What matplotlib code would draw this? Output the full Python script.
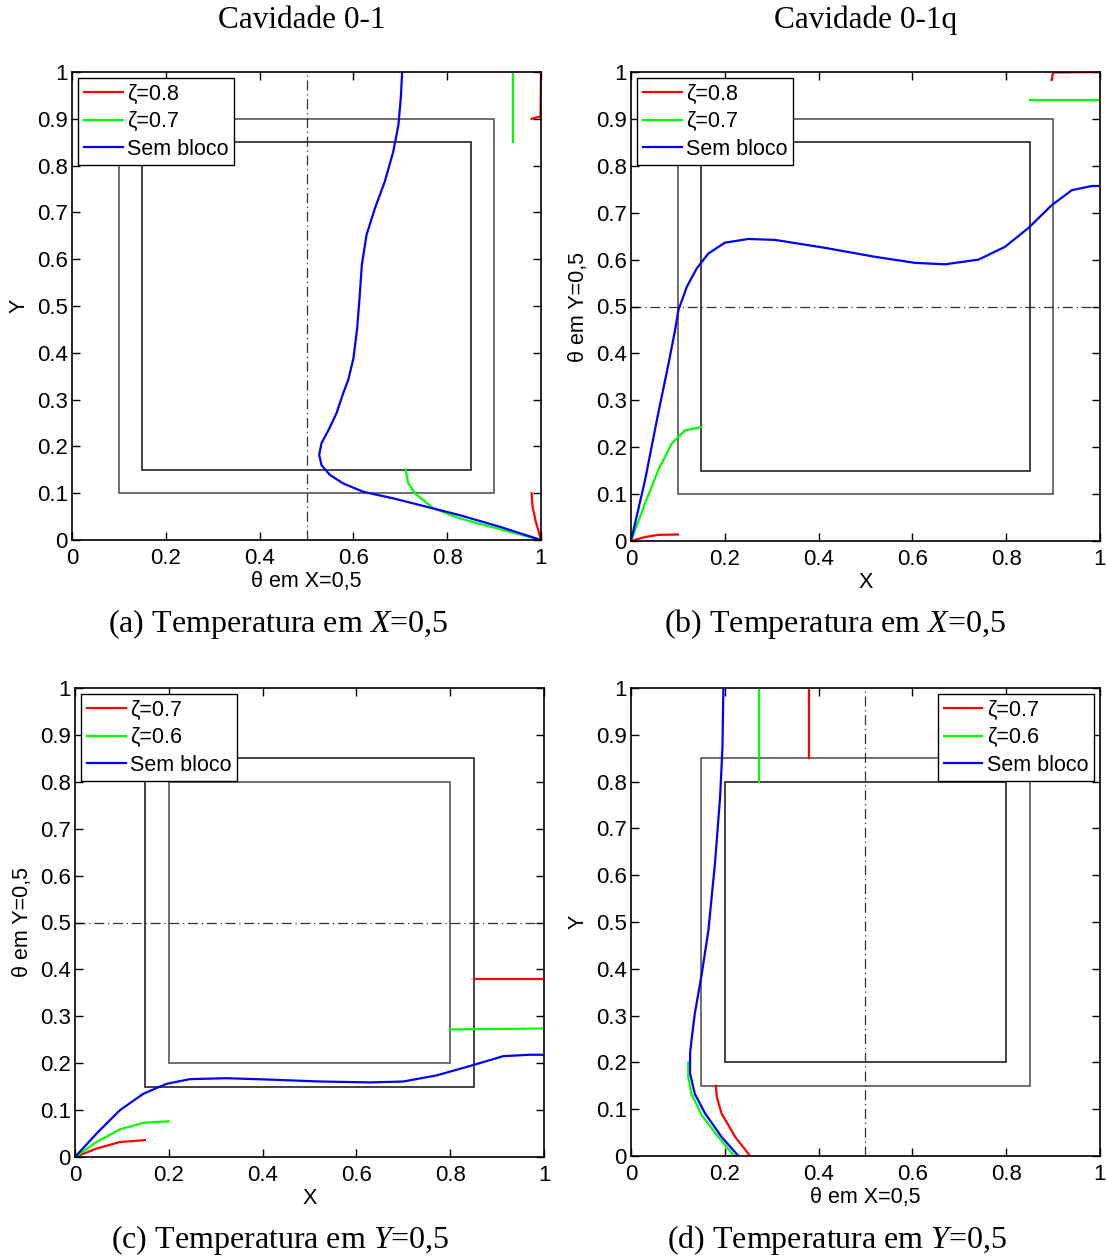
import matplotlib
matplotlib.use("Agg")
import matplotlib.pyplot as plt
from matplotlib.patches import Rectangle
from matplotlib.lines import Line2D

plt.rcParams['font.family'] = ['Liberation Sans', 'DejaVu Sans']
plt.rcParams['mathtext.fontset'] = 'custom'
plt.rcParams['mathtext.it'] = 'Liberation Serif:italic'
plt.rcParams['mathtext.rm'] = 'Liberation Serif'

# ---------------- data ----------------
col_titles = ["Cavidade 0-1", "Cavidade 0-1q"]
captions = ["(a) Temperatura em $X$=0,5", "(b) Temperatura em $X$=0,5",
            "(c) Temperatura em $Y$=0,5", "(d) Temperatura em $Y$=0,5"]
x_ticks = [0, 0.2, 0.4, 0.6, 0.8, 1]
x_ticklabels = ["0", "0.2", "0.4", "0.6", "0.8", "1"]
y_ticks = [0, 0.1, 0.2, 0.3, 0.4, 0.5, 0.6, 0.7, 0.8, 0.9, 1]
y_ticklabels = ["0", "0.1", "0.2", "0.3", "0.4", "0.5", "0.6", "0.7", "0.8", "0.9", "1"]

# Panel a (theta vs Y)
a_labels = ["ζ=0.8", "ζ=0.7", "Sem bloco"]
a_blue_theta = [1.0, 0.913, 0.827, 0.756, 0.685, 0.621, 0.578, 0.550, 0.532, 0.527, 0.532, 0.547,
                0.564, 0.578, 0.589, 0.600, 0.608, 0.613, 0.618, 0.628, 0.646, 0.667, 0.685,
                0.696, 0.701, 0.704]
a_blue_Y = [0.0, 0.028, 0.053, 0.071, 0.089, 0.103, 0.121, 0.139, 0.160, 0.182, 0.207, 0.235,
            0.271, 0.313, 0.342, 0.388, 0.452, 0.516, 0.588, 0.652, 0.709, 0.766, 0.830,
            0.887, 0.944, 1.0]
a_green_lo_theta = [1.0, 0.913, 0.827, 0.770, 0.731, 0.717, 0.711]
a_green_lo_Y = [0.0, 0.023, 0.046, 0.068, 0.100, 0.121, 0.151]
a_green_hi_theta = [0.94, 0.94]
a_green_hi_Y = [0.85, 1.0]
a_red_lo_theta = [1.0, 0.988, 0.982, 0.980]
a_red_lo_Y = [0.0, 0.043, 0.071, 0.1]
a_red_hi_theta = [0.98, 0.999, 1.0]
a_red_hi_Y = [0.9, 0.905, 1.0]

# Panel b (X vs theta)
b_labels = ["ζ=0.8", "ζ=0.7", "Sem bloco"]
b_blue_X = [0, 0.030, 0.058, 0.080, 0.094, 0.101, 0.119, 0.140, 0.165, 0.200, 0.250, 0.307,
            0.414, 0.520, 0.606, 0.670, 0.741, 0.797, 0.847, 0.897, 0.940, 0.983, 1.0]
b_blue_theta = [0, 0.13, 0.272, 0.378, 0.45, 0.492, 0.542, 0.581, 0.613, 0.636, 0.644, 0.642,
                0.625, 0.606, 0.593, 0.590, 0.600, 0.627, 0.667, 0.716, 0.748, 0.757, 0.757]
b_green_lo_X = [0, 0.030, 0.058, 0.087, 0.115, 0.149]
b_green_lo_theta = [0, 0.080, 0.151, 0.208, 0.236, 0.243]
b_green_hi_X = [0.85, 1.0]
b_green_hi_theta = [0.94, 0.94]
b_red_lo_X = [0, 0.030, 0.058, 0.1]
b_red_lo_theta = [0, 0.0085, 0.013, 0.014]
b_red_hi_X = [0.897, 0.9, 1.0]
b_red_hi_theta = [0.983, 0.999, 1.0]

# Panel c (X vs theta)
c_labels = ["ζ=0.7", "ζ=0.6", "Sem bloco"]
c_blue_X = [0, 0.046, 0.096, 0.146, 0.195, 0.245, 0.323, 0.416, 0.522, 0.629, 0.700, 0.771,
            0.842, 0.913, 0.970, 1.0]
c_blue_theta = [0, 0.050, 0.100, 0.135, 0.156, 0.166, 0.168, 0.165, 0.161, 0.159, 0.161, 0.174,
                0.194, 0.215, 0.218, 0.218]
c_green_lo_X = [0, 0.046, 0.096, 0.146, 0.2]
c_green_lo_theta = [0, 0.032, 0.059, 0.073, 0.076]
c_green_hi_X = [0.8, 1.0]
c_green_hi_theta = [0.272, 0.274]
c_red_lo_X = [0, 0.046, 0.096, 0.149]
c_red_lo_theta = [0, 0.018, 0.032, 0.036]
c_red_hi_X = [0.85, 1.0]
c_red_hi_theta = [0.38, 0.38]

# Panel d (theta vs Y)
d_labels = ["ζ=0.7", "ζ=0.6", "Sem bloco"]
d_blue_theta = [0.229, 0.193, 0.158, 0.136, 0.126, 0.126, 0.129, 0.136, 0.151, 0.165, 0.179,
                0.190, 0.195, 0.197]
d_blue_Y = [0, 0.041, 0.091, 0.133, 0.176, 0.219, 0.247, 0.304, 0.390, 0.482, 0.625,
            0.767, 0.873, 1.0]
d_green_lo_theta = [0.220, 0.186, 0.151, 0.129, 0.122, 0.122]
d_green_lo_Y = [0, 0.041, 0.087, 0.133, 0.169, 0.2]
d_green_hi_theta = [0.273, 0.273]
d_green_hi_Y = [0.8, 1.0]
d_red_lo_theta = [0.254, 0.222, 0.193, 0.183, 0.181]
d_red_lo_Y = [0, 0.041, 0.091, 0.126, 0.15]
d_red_hi_theta = [0.38, 0.38]
d_red_hi_Y = [0.85, 1.0]

# block outlines (outer, inner) as (lo, hi)
a_blocks = [(0.1, 0.9), (0.15, 0.85)]
c_blocks = [(0.15, 0.85), (0.2, 0.8)]

# ---------------- drawing ----------------
W, H = 1106, 1259
fig = plt.figure(figsize=(W / 100, H / 100), dpi=100)

def ax_at(l, t, r, b):
    return fig.add_axes([l / W, 1 - b / H, (r - l) / W, (b - t) / H])

RED, GREEN, BLUE = (1, 0, 0), (0, 1, 0), (0, 0, 1)
LW = 1.6
FS = 16
DASHDOT = (0, (8, 3, 1, 3))

def style(ax):
    ax.set_xlim(0, 1)
    ax.set_ylim(0, 1)
    ax.set_xticks(x_ticks)
    ax.set_xticklabels(x_ticklabels)
    ax.set_yticks(y_ticks)
    ax.set_yticklabels(y_ticklabels)
    ax.tick_params(direction='in', top=True, right=True, length=6, width=1,
                   labelsize=FS)
    ax.tick_params(axis='x', pad=6)
    ax.tick_params(axis='y', pad=3)
    for s in ax.spines.values():
        s.set_linewidth(1.2)

def blocks(ax, blk, colors):
    for (lo, hi), c in zip(blk, colors):
        ax.add_patch(Rectangle((lo, lo), hi - lo, hi - lo, fill=False,
                               edgecolor=c, linewidth=1.2, zorder=1))

def legend(ax, labels, loc):
    h = [Line2D([], [], color=c, lw=LW) for c in (RED, GREEN, BLUE)]
    lg = ax.legend(h, labels, loc=loc, fontsize=15.5, frameon=True, fancybox=False,
                   edgecolor='black', framealpha=1, handlelength=1.8, handletextpad=0.2,
                   labelspacing=0.3, borderpad=0.25, borderaxespad=0.3)
    lg.get_frame().set_linewidth(1.0)

def labels(ax, xl, yl):
    ax.set_xlabel(xl, fontsize=15.5, labelpad=1)
    ax.set_ylabel(yl, fontsize=15.5, labelpad=5)

# (a)
ax = ax_at(72, 72, 541, 540)
style(ax)
blocks(ax, a_blocks, ['#555555', '#222222'])
ax.axvline(0.5, color='#333333', lw=0.9, ls=DASHDOT, zorder=1)
ax.plot(a_red_lo_theta, a_red_lo_Y, color=RED, lw=LW)
ax.plot(a_red_hi_theta, a_red_hi_Y, color=RED, lw=LW)
ax.plot(a_green_lo_theta, a_green_lo_Y, color=GREEN, lw=LW)
ax.plot(a_green_hi_theta, a_green_hi_Y, color=GREEN, lw=LW)
ax.plot(a_blue_theta, a_blue_Y, color=BLUE, lw=LW)
labels(ax, "θ em X=0,5", "Y")
legend(ax, a_labels, 'upper left')

# (b)
ax = ax_at(631, 72, 1100, 541)
style(ax)
blocks(ax, a_blocks, ['#555555', '#222222'])
ax.axhline(0.5, color='#333333', lw=0.9, ls=DASHDOT, zorder=1)
ax.plot(b_red_lo_X, b_red_lo_theta, color=RED, lw=LW)
ax.plot(b_red_hi_X, b_red_hi_theta, color=RED, lw=LW)
ax.plot(b_green_lo_X, b_green_lo_theta, color=GREEN, lw=LW)
ax.plot(b_green_hi_X, b_green_hi_theta, color=GREEN, lw=LW)
ax.plot(b_blue_X, b_blue_theta, color=BLUE, lw=LW)
labels(ax, "X", "θ em Y=0,5")
legend(ax, b_labels, 'upper left')

# (c)
ax = ax_at(75, 688, 544, 1157)
style(ax)
blocks(ax, c_blocks, ['#222222', '#555555'])
ax.axhline(0.5, color='#333333', lw=0.9, ls=DASHDOT, zorder=1)
ax.plot(c_red_lo_X, c_red_lo_theta, color=RED, lw=LW)
ax.plot(c_red_hi_X, c_red_hi_theta, color=RED, lw=LW)
ax.plot(c_green_lo_X, c_green_lo_theta, color=GREEN, lw=LW)
ax.plot(c_green_hi_X, c_green_hi_theta, color=GREEN, lw=LW)
ax.plot(c_blue_X, c_blue_theta, color=BLUE, lw=LW)
labels(ax, "X", "θ em Y=0,5")
legend(ax, c_labels, 'upper left')

# (d)
ax = ax_at(631, 688, 1100, 1156)
style(ax)
blocks(ax, c_blocks, ['#555555', '#222222'])
ax.axvline(0.5, color='#333333', lw=0.9, ls=DASHDOT, zorder=1)
ax.plot(d_red_lo_theta, d_red_lo_Y, color=RED, lw=LW)
ax.plot(d_red_hi_theta, d_red_hi_Y, color=RED, lw=LW)
ax.plot(d_green_lo_theta, d_green_lo_Y, color=GREEN, lw=LW)
ax.plot(d_green_hi_theta, d_green_hi_Y, color=GREEN, lw=LW)
ax.plot(d_blue_theta, d_blue_Y, color=BLUE, lw=LW)
labels(ax, "θ em X=0,5", "Y")
legend(ax, d_labels, 'upper right')

fig.text(302 / W, 1 - 20 / H, col_titles[0], family='Liberation Serif', fontsize=22.5,
         ha='center', va='center')
fig.text(866 / W, 1 - 20 / H, col_titles[1], family='Liberation Serif', fontsize=22.5,
         ha='center', va='center')
cap = dict(family='Liberation Serif', fontsize=23, ha='center', va='center')
fig.text(278 / W, 1 - 624 / H, captions[0], **cap)
fig.text(835 / W, 1 - 624 / H, captions[1], **cap)
fig.text(280 / W, 1 - 1240 / H, captions[2], **cap)
fig.text(837 / W, 1 - 1240 / H, captions[3], **cap)

fig.savefig("out.png", dpi=100)
